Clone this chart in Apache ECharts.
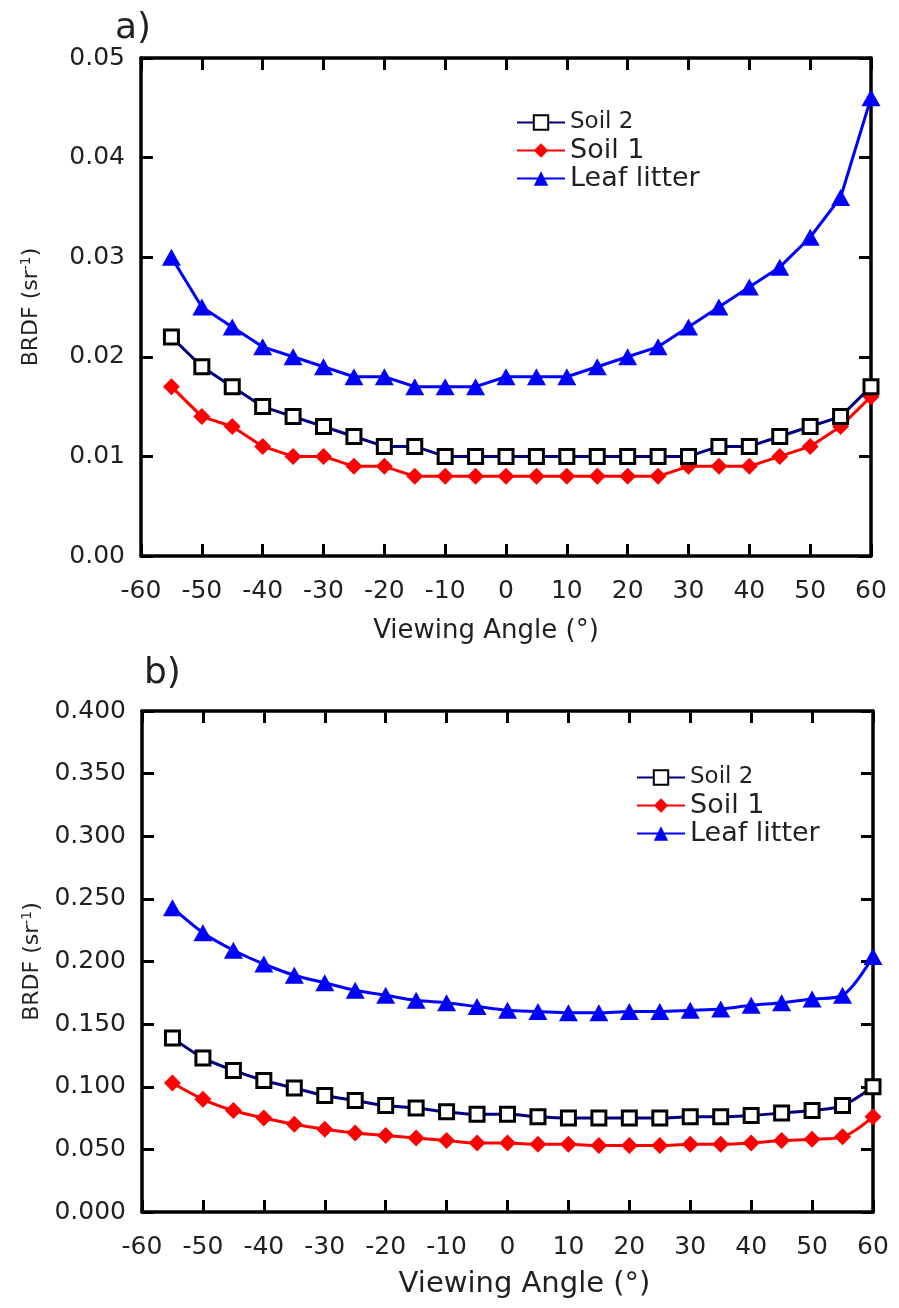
<!DOCTYPE html>
<html><head><meta charset="utf-8">
<script src="https://cdn.jsdelivr.net/npm/echarts@6/dist/echarts.min.js"></script>
<style>html,body{margin:0;padding:0;background:#fff}#c{width:899px;height:1308px}</style>
</head><body><div id="c"></div><script>
const angles = [-55,-50,-45,-40,-35,-30,-25,-20,-15,-10,-5,0,5,10,15,20,25,30,35,40,45,50,55,60];
// panel a
const soil2A = [0.022,0.019,0.017,0.015,0.014,0.013,0.012,0.011,0.011,0.010,0.010,0.010,0.010,0.010,0.010,0.010,0.010,0.010,0.011,0.011,0.012,0.013,0.014,0.017];
const soil1A = [0.017,0.014,0.013,0.011,0.010,0.010,0.009,0.009,0.008,0.008,0.008,0.008,0.008,0.008,0.008,0.008,0.008,0.009,0.009,0.009,0.010,0.011,0.013,0.016];
const leafA  = [0.030,0.025,0.023,0.021,0.020,0.019,0.018,0.018,0.017,0.017,0.017,0.018,0.018,0.018,0.019,0.020,0.021,0.023,0.025,0.027,0.029,0.032,0.036,0.046];
// panel b
const soil2B = [0.139,0.123,0.113,0.105,0.099,0.093,0.089,0.085,0.083,0.080,0.078,0.078,0.076,0.075,0.075,0.075,0.075,0.076,0.076,0.077,0.079,0.081,0.085,0.100];
const soil1B = [0.103,0.090,0.081,0.075,0.070,0.066,0.063,0.061,0.059,0.057,0.055,0.055,0.054,0.054,0.053,0.053,0.053,0.054,0.054,0.055,0.057,0.058,0.060,0.076];
const leafB  = [0.243,0.223,0.209,0.198,0.189,0.183,0.177,0.173,0.169,0.167,0.164,0.161,0.160,0.159,0.159,0.160,0.160,0.161,0.162,0.165,0.167,0.170,0.173,0.204];
const seriesNames = ['Soil 2','Soil 1','Leaf litter'];
const xTicks = {min:-60, max:60, interval:10};
const yTicksA = {min:0, max:0.05, interval:0.01, digits:2};
const yTicksB = {min:0, max:0.4, interval:0.05, digits:3};

const FONT = 'DejaVu Sans';
const TXT = '#231f20';
const axisLine = {show:true, onZero:false, lineStyle:{color:'#000', width:3.5}};
const axisTick = {show:true, inside:true, length:12, lineStyle:{color:'#000', width:3}};

function xAxes(g, nameSize, nameGap, namePad){
  return [
    {gridIndex:g, type:'value', position:'bottom', min:xTicks.min, max:xTicks.max, interval:xTicks.interval,
     axisLine, axisTick, splitLine:{show:false},
     axisLabel:{fontSize:25, color:TXT, fontFamily:FONT, margin:23},
     name:'Viewing Angle (°)', nameLocation:'middle', nameGap:nameGap,
     nameTextStyle:{fontSize:nameSize, color:TXT, fontFamily:FONT, padding:namePad}},
    {gridIndex:g, type:'value', position:'top', min:xTicks.min, max:xTicks.max, interval:xTicks.interval,
     axisLine, axisTick, splitLine:{show:false}, axisLabel:{show:false}}
  ];
}
function yAxes(g, t){
  return [
    {gridIndex:g, type:'value', position:'left', min:t.min, max:t.max, interval:t.interval,
     axisLine, axisTick, splitLine:{show:false},
     axisLabel:{fontSize:25, color:TXT, fontFamily:FONT, margin:16, formatter:v=>v.toFixed(t.digits)},
     name:'{a|BRDF (sr}{s|-1}{a|)}', nameLocation:'middle', nameGap:97, nameRotate:90,
     nameTextStyle:{rich:{a:{fontSize:22, color:TXT, fontFamily:FONT, lineHeight:25},
                          s:{fontSize:14, color:TXT, fontFamily:FONT, lineHeight:25, verticalAlign:'top'}}}},
    {gridIndex:g, type:'value', position:'right', min:t.min, max:t.max, interval:t.interval,
     axisLine, axisTick, splitLine:{show:false}, axisLabel:{show:false}}
  ];
}
function mkSeries(g, s2, s1, lf, smooth){
  const pts = arr => angles.map((a,i)=>[a, arr[i]]);
  const base = {type:'line', xAxisIndex:g*2, yAxisIndex:g*2, smooth:smooth, animation:false};
  return [
    Object.assign({}, base, {name:seriesNames[1], data:pts(s1), symbol:'diamond', symbolSize:[17,17],
      itemStyle:{color:'#ff0000'}, lineStyle:{color:'#ff0000', width:3}, z:3}),
    Object.assign({}, base, {name:seriesNames[0], data:pts(s2), symbol:'rect', symbolSize:14,
      itemStyle:{color:'#ffffff', borderColor:'#000', borderWidth:3}, lineStyle:{color:'#000080', width:3}, z:4}),
    Object.assign({}, base, {name:seriesNames[2], data:pts(lf), symbol:'triangle', symbolSize:[19,17],
      itemStyle:{color:'#0000ff'}, lineStyle:{color:'#0000ff', width:3}, z:5})
  ];
}
function mkLegend(left, top, sizes){
  return {orient:'vertical', left:left, top:top, itemWidth:48, itemHeight:18, itemGap:1, padding:0,
    selectedMode:false,
    data:seriesNames.map((n,i)=>({name:n, textStyle:{fontSize:sizes[i], color:TXT, fontFamily:FONT, lineHeight:27}})),
    textStyle:{fontFamily:FONT, color:TXT}};
}

const option = {
  backgroundColor:'#fff',
  animation:false,
  title:[
    {text:'a)', left:110, top:6, textStyle:{fontSize:36, fontWeight:'normal', color:TXT, fontFamily:FONT}},
    {text:'b)', left:139, top:651, textStyle:{fontSize:36, fontWeight:'normal', color:TXT, fontFamily:FONT}}
  ],
  grid:[
    {left:141, top:58, width:730, height:498},
    {left:142, top:711, width:731, height:501}
  ],
  legend:[mkLegend(516, 109, [23,27,27]), mkLegend(636, 764, [23,27,27])],
  xAxis:[...xAxes(0, 26, 62, [0,40,0,0]), ...xAxes(1, 29, 58, [0,0,0,34])],
  yAxis:[...yAxes(0, yTicksA), ...yAxes(1, yTicksB)],
  series:[...mkSeries(0, soil2A, soil1A, leafA, false), ...mkSeries(1, soil2B, soil1B, leafB, 0.3)]
};
const chart = echarts.init(document.getElementById('c'));
chart.setOption(option);
</script></body></html>
